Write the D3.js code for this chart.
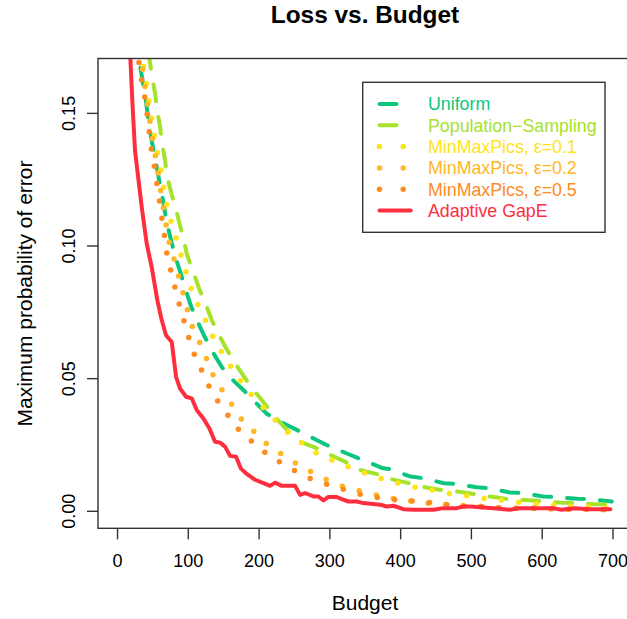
<!DOCTYPE html>
<html><head><meta charset="utf-8">
<script src="https://cdn.jsdelivr.net/npm/d3@7"></script>
<style>
html,body{margin:0;padding:0;background:#fff;}
text{font-family:"Liberation Sans",Arial,Helvetica,sans-serif;fill:#000;}
</style></head>
<body>
<svg id="chart" width="627" height="619"></svg>
<script>
// ---- data ----
const uniformB = [33,35,40,45,50,55,60,65,70,77,84,90,98,105,115,124,138,148,164,181,197,212,235,254,282,296,324,341,376,385,415,432,462,478,508,525,555,572,602,620,650,668,699];
const uniformV = [0.167,0.1639,0.156,0.146,0.138,0.131,0.124,0.117,0.109,0.1012,0.0944,0.0894,0.0824,0.0768,0.0706,0.0655,0.0586,0.0542,0.0492,0.0449,0.0405,0.0365,0.033,0.0305,0.0267,0.0248,0.0217,0.0198,0.016,0.0157,0.0129,0.0123,0.0104,0.0102,0.0089,0.0085,0.0069,0.0067,0.0054,0.0052,0.0045,0.0044,0.0035];

const popB = [44,46,49,54,56,61,63,68,70,77,82,89,94,98.5,107,117,124,134,143,157,167,183,193,212,223,240,259,282,301,325,343,372,388,416,435,463,481,511,532,560,577,607,626,647,669,699];
const popV = [0.173,0.170,0.1645,0.157,0.152,0.1445,0.1395,0.132,0.127,0.1194,0.115,0.1075,0.1025,0.0969,0.0905,0.083,0.0787,0.0718,0.0668,0.0599,0.0555,0.0492,0.0455,0.0392,0.0355,0.0305,0.026,0.0236,0.0211,0.0182,0.0154,0.0135,0.0119,0.0102,0.0089,0.0076,0.0073,0.006,0.0052,0.0041,0.0041,0.0035,0.0031,0.0029,0.0026,0.0023];

const mm01B = [33,35,39.6,43.4,46.6,51.3,55,59.4,64.6,67.8,73.5,80.6,88,94.7,102,110,122,132,144,157,171,186,202,220,237,259,278,301,325,348,372,396,421,445,471,495,520,545,570,595,621,646,672,697];
const mm01V = [0.174,0.1708,0.1645,0.1576,0.1514,0.1445,0.138,0.1316,0.125,0.118,0.1117,0.1053,0.0988,0.0925,0.086,0.08,0.0737,0.0674,0.0615,0.0559,0.0503,0.0449,0.0402,0.0352,0.0305,0.026,0.0223,0.0194,0.0168,0.0144,0.0123,0.0105,0.0089,0.0079,0.0064,0.0056,0.0046,0.0039,0.0031,0.0026,0.0021,0.0016,0.0014,0.001];

const mm02B = [33,35,38.6,42,45.2,49,52.7,57.5,60.8,64.6,72.5,79.6,85.7,92.3,98.5,105.5,116,126,135,148,162,176,194,212,233,254,276,298,321,346,371,395,420,445,471,495,520,545,570,595,621,646,672,697];
const mm02V = [0.173,0.1686,0.162,0.155,0.149,0.1422,0.136,0.1288,0.1222,0.1157,0.1025,0.0959,0.0896,0.0831,0.0766,0.0699,0.0639,0.0576,0.0515,0.0457,0.0401,0.0345,0.0298,0.0251,0.0213,0.0177,0.0144,0.0115,0.009,0.0073,0.0056,0.0044,0.0035,0.0026,0.0023,0.0019,0.0016,0.001,0.001,0.001,0.0006,0.0006,0.0004,0.0004];

const mm05B = [31,33.9,38.6,42,45.2,48,52.7,56,59.8,63.2,66.8,70.2,76,82,88,95,102,110,120.5,131,144,159,174,194,212,234,256,279,303,327,352,376,401,427,452,476,501,527,552,577,602,627,652,677,698];
const mm05V = [0.169,0.1635,0.157,0.1505,0.1435,0.137,0.130,0.1238,0.1172,0.1106,0.1041,0.0971,0.0906,0.0841,0.0778,0.0712,0.0647,0.0583,0.0524,0.0464,0.0405,0.0351,0.0298,0.0254,0.0214,0.0177,0.0144,0.0114,0.0094,0.0075,0.0056,0.0047,0.0039,0.0035,0.0029,0.0019,0.0016,0.0014,0.001,0.001,0.001,0.0006,0.0006,0.0006,0.0004];

const gapeB = [15,18.4,21.6,25.4,34.9,42,49,57,63.2,69.2,77.3,83.4,89,97.5,105.5,112.6,122,130.4,138.5,145.6,152.6,159.7,168.2,174.8,183.3,195,206.8,216.2,223.3,232.7,251.6,258.6,265.7,277.4,284.5,291.6,298.6,310.5,317.5,327,338.7,348,371.7,381,390.5,404.6,418.7,447,461,480,489.4,499,532,555,569,592,616,628,647,666,697];
const gapeV = [0.195,0.173,0.1545,0.1357,0.1144,0.1006,0.0918,0.0793,0.0718,0.0662,0.0636,0.0505,0.0461,0.043,0.0424,0.038,0.0348,0.0311,0.026,0.0257,0.0242,0.0207,0.0204,0.016,0.0139,0.0117,0.0104,0.0094,0.0106,0.0094,0.0094,0.006,0.0067,0.0054,0.0054,0.0039,0.0052,0.0052,0.0044,0.0035,0.0035,0.0029,0.0023,0.0016,0.0019,0.0006,0.0004,0.0004,0.001,0.001,0.0016,0.0016,0.001,0.0004,0.001,0.001,0.001,0.0004,0.001,0.0006,0.0006];

const seriesNames = ["Uniform","Population\u2212Sampling","MinMaxPics, \u03b5=0.1","MinMaxPics, \u03b5=0.2","MinMaxPics, \u03b5=0.5","Adaptive GapE"];
const seriesColors = ["#0cc67e","#a6e22a","#ffe31a","#ffb627","#ff8a1f","#ff2e3f"];
const seriesStyles = ["dashed","dashed","dotted","dotted","dotted","solid"];
const seriesB = [uniformB,popB,mm01B,mm02B,mm05B,gapeB];
const seriesV = [uniformV,popV,mm01V,mm02V,mm05V,gapeV];

const xTicks = [0,100,200,300,400,500,600,700];
const yTicks = [0.00,0.05,0.10,0.15];
const titleText = "Loss vs. Budget";
const xLabel = "Budget";
const yLabel = "Maximum probability of error";

// ---- layout ----
const L = 98, R = 632, T = 58.5, B = 528.3;
const svg = d3.select("#chart");
const x = d3.scaleLinear().domain([-26.9, 727.6]).range([L, R]);
const y = d3.scaleLinear().domain([-0.0066, 0.1705]).range([B, T]);

svg.append("defs").append("clipPath").attr("id","clip")
  .append("rect").attr("x",L).attr("y",T).attr("width",R-L).attr("height",B-T);

const dashFor = {dashed:"17,16", dotted:"0,17.5", solid:null};
const widthFor = {dashed:4, dotted:5.5, solid:4};

const line = d3.line().x(d=>x(d[0])).y(d=>y(d[1]));
const plot = svg.append("g").attr("clip-path","url(#clip)");
seriesB.forEach((bs,i)=>{
  const pts = bs.map((b,j)=>[b, seriesV[i][j]]);
  plot.append("path").datum(pts)
    .attr("d", line)
    .attr("fill","none")
    .attr("stroke", seriesColors[i])
    .attr("stroke-width", widthFor[seriesStyles[i]])
    .attr("stroke-linecap","round")
    .attr("stroke-linejoin","round")
    .attr("stroke-dasharray", dashFor[seriesStyles[i]]);
});

// box
svg.append("rect").attr("x",L).attr("y",T).attr("width",R-L).attr("height",B-T)
  .attr("fill","none").attr("stroke","#333").attr("stroke-width",1.4);

// axes
const xa = svg.append("g").attr("transform",`translate(0,${B})`)
  .call(d3.axisBottom(x).tickValues(xTicks).tickSize(11).tickFormat(d3.format("d")));
xa.select(".domain").remove();
xa.selectAll("line").attr("stroke","#333").attr("stroke-width",1.4);
xa.selectAll("text").attr("y",39).attr("dy",null)
  .style("font-size","18px").style("font-family","'Liberation Sans',Arial,sans-serif").attr("fill","#000");

const ya = svg.append("g").attr("transform",`translate(${L},0)`)
  .call(d3.axisLeft(y).tickValues(yTicks).tickSize(11).tickFormat(d3.format(".2f")));
ya.select(".domain").remove();
ya.selectAll("line").attr("stroke","#333").attr("stroke-width",1.4);
ya.selectAll("text").attr("x",0).attr("y",0).attr("dy",null)
  .attr("text-anchor","middle")
  .attr("transform","translate(-22.7,0) rotate(-90)")
  .style("font-size","18px").style("font-family","'Liberation Sans',Arial,sans-serif").attr("fill","#000");

// title and labels
svg.append("text").attr("x",365).attr("y",23.3).attr("text-anchor","middle")
  .style("font-size","24.4px").style("font-weight","bold").text(titleText);
svg.append("text").attr("x",365).attr("y",610).attr("text-anchor","middle")
  .style("font-size","21px").text(xLabel);
svg.append("text").attr("text-anchor","middle")
  .attr("transform","translate(31.7,293.5) rotate(-90)")
  .style("font-size","21px").text(yLabel);

// legend
const lg = svg.append("g");
lg.append("rect").attr("x",362.7).attr("y",82.3).attr("width",605-362.7).attr("height",232.3-82.3)
  .attr("fill","#fff").attr("stroke","#333").attr("stroke-width",1.4);
const legDash = {dashed:"17,16", dotted:"0,23.7", solid:null};
seriesNames.forEach((name,i)=>{
  const cy = 104 + i*21.3;
  lg.append("line").attr("x1",379.5).attr("x2",410.7).attr("y1",cy).attr("y2",cy)
    .attr("stroke",seriesColors[i]).attr("stroke-width",widthFor[seriesStyles[i]])
    .attr("stroke-linecap","round").attr("stroke-dasharray",legDash[seriesStyles[i]]);
  lg.append("text").attr("x",428).attr("y",cy+6.3).style("font-size","17.8px")
    .style("fill",seriesColors[i]).text(name);
});
</script>
</body></html>
